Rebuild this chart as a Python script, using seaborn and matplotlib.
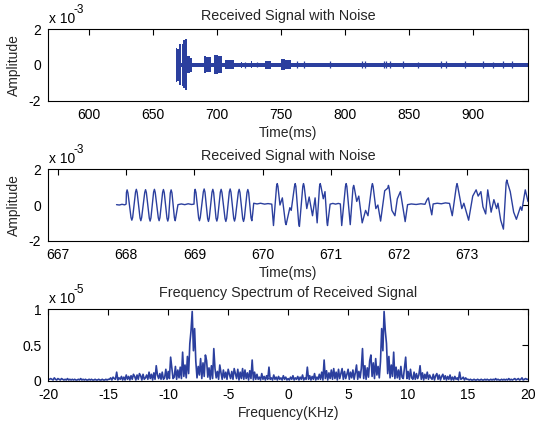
import numpy as np
import pandas as pd
import matplotlib
matplotlib.use("Agg")
import matplotlib.pyplot as plt
import seaborn as sns

sns.set_theme(style="white")
plt.rcParams["font.family"] = ["Liberation Sans", "DejaVu Sans"]

LINE = "#2b3f9e"

# ---- Overview trace (time in ms, amplitude in units of 1e-3) ----
# band envelope, each value held until the next breakpoint
env_t = [667.8, 669.0, 670.0, 672.1, 672.75, 673.3, 674.6, 676.3, 676.8,
         678.5, 680.6, 689.5, 691.5, 695.0, 697.6, 700.5, 703.6, 706.0,
         713.0, 718.5, 719.5, 726.5, 727.5, 737.5, 742.0, 749.5, 753.0,
         757.5, 942.7]
env_hi = [0.93, 0.90, 1.20, 0.10, 1.20, 1.38, 1.43, 0.15, 0.48,
          0.40, 0.12, 0.50, 0.44, 0.12, 0.55, 0.50, 0.12, 0.28,
          0.10, 0.18, 0.10, 0.20, 0.10, 0.22, 0.10, 0.35, 0.28,
          0.10, 0.10]
env_lo = [-0.93, -0.90, -1.10, -0.10, -1.20, -1.30, -1.40, -0.15, -0.45,
          -0.38, -0.10, -0.46, -0.42, -0.10, -0.50, -0.46, -0.10, -0.25,
          -0.09, -0.15, -0.09, -0.15, -0.09, -0.20, -0.09, -0.30, -0.24,
          -0.09, -0.09]
# isolated noise spikes along the tail
spike_t = [722.0, 731.0, 762.0, 768.0, 788.0, 812.8, 815.4, 830.0, 832.0,
           835.0, 845.5, 857.0, 875.0, 879.0, 893.6, 907.8, 915.6, 923.4, 929.9]
spike_hi = [0.18, 0.16, 0.20, 0.22, 0.20, 0.22, 0.20, 0.22, 0.20,
            0.22, 0.20, 0.18, 0.22, 0.20, 0.20, 0.22, 0.18, 0.20, 0.20]
spike_lo = [-0.15, -0.14, -0.17, -0.18, -0.16, -0.18, -0.17, -0.18, -0.16,
            -0.18, -0.16, -0.15, -0.18, -0.17, -0.16, -0.18, -0.15, -0.16, -0.16]

# ---- Zoomed trace: waveform points (ms, units of 1e-3) ----
zoom_t = [667.86, 667.90, 667.94, 667.98, 668.00,
          # first tone burst
          668.005, 668.015, 668.027, 668.072, 668.084, 668.096,
          668.138, 668.15, 668.162, 668.204, 668.216, 668.228,
          668.273, 668.285, 668.297, 668.340, 668.352, 668.364,
          668.403, 668.415, 668.427, 668.472, 668.484, 668.496,
          668.535, 668.547, 668.559, 668.599, 668.611, 668.623,
          668.648, 668.66, 668.672, 668.708, 668.72, 668.732,
          668.76, 668.81, 668.86, 668.91, 668.96, 668.995,
          # second tone burst
          669.003, 669.012, 669.024, 669.063, 669.075, 669.087,
          669.132, 669.144, 669.156, 669.195, 669.207, 669.219,
          669.259, 669.271, 669.283, 669.318, 669.33, 669.342,
          669.381, 669.393, 669.405, 669.450, 669.462, 669.474,
          669.513, 669.525, 669.537, 669.577, 669.589, 669.601,
          669.645, 669.657, 669.669, 669.709, 669.721, 669.733,
          669.772, 669.784, 669.796, 669.831, 669.843, 669.855,
          669.87, 669.92, 669.97, 670.03, 670.08, 670.135,
          # mixed-tone bursts
          670.16, 670.205, 670.215, 670.225, 670.255, 670.29, 670.335, 670.345,
          670.40, 670.42, 670.468, 670.478, 670.488,
          670.53, 670.54, 670.59, 670.60, 670.61, 670.648, 670.683, 670.732,
          670.77, 670.80, 670.835, 670.845, 670.855,
          670.89, 670.915, 670.945, 670.952,
          670.99, 671.03, 671.07, 671.11, 671.14,
          671.16, 671.215, 671.225, 671.235, 671.285, 671.325, 671.335, 671.345,
          671.38, 671.41, 671.46, 671.51,
          671.545, 671.60, 671.61, 671.62, 671.66, 671.69, 671.73, 671.79,
          671.835, 671.845, 671.855, 671.895,
          671.94, 671.975, 672.02, 672.09,
          672.125, 672.18, 672.25, 672.32, 672.38,
          672.41, 672.43, 672.45, 672.48, 672.50,
          672.56, 672.62, 672.68, 672.74,
          672.78, 672.84, 672.85, 672.86, 672.92, 672.95, 673.02, 673.08,
          673.13, 673.16, 673.20, 673.23, 673.27, 673.30, 673.35, 673.39,
          673.43, 673.45, 673.49, 673.53, 673.57, 673.58, 673.59, 673.63,
          673.68, 673.72, 673.78, 673.80, 673.85, 673.89]
zoom_amp = [0.02, 0.00, 0.04, 0.01, 0.05,
            0.70, 0.85, 0.68, -0.70, -0.85, -0.70,
            0.72, 0.88, 0.70, -0.72, -0.88, -0.70,
            0.70, 0.86, 0.70, -0.74, -0.90, -0.72,
            0.72, 0.88, 0.70, -0.72, -0.88, -0.70,
            0.70, 0.87, 0.70, -0.74, -0.90, -0.72,
            0.68, 0.85, 0.68, -0.72, -0.88, -0.60,
            0.02, 0.06, 0.02, 0.07, 0.03, 0.05,
            0.72, 0.88, 0.70, -0.72, -0.88, -0.70,
            0.74, 0.90, 0.72, -0.76, -0.92, -0.74,
            0.72, 0.88, 0.70, -0.74, -0.90, -0.72,
            0.72, 0.88, 0.70, -0.76, -0.92, -0.74,
            0.74, 0.90, 0.72, -0.74, -0.90, -0.72,
            0.72, 0.88, 0.70, -0.76, -0.92, -0.74,
            0.70, 0.87, 0.70, -0.72, -0.88, -0.50,
            0.10, 0.06, 0.10, 0.05, 0.08, 0.05,
            -1.15, 1.05, 1.20, 1.05, 0.00, 0.40, -1.00, -1.10,
            -0.15, -0.30, 1.05, 1.20, 1.05,
            -1.05, -1.20, 1.05, 1.20, 1.05, -0.20, 0.45, -0.60,
            0.40, -1.00, 1.05, 1.20, 1.05,
            0.35, 0.75, -1.00, -1.15,
            0.05, 0.09, 0.05, 0.09, 0.06,
            -1.15, 1.05, 1.20, 1.05, -1.10, 0.95, 1.10, 0.95,
            0.20, 0.50, -1.00, -0.30,
            -0.60, 1.05, 1.20, 1.05, -0.20, 0.00, -0.90, 0.80,
            0.95, 1.10, 0.95, -0.30,
            -0.60, 0.35, 0.75, -0.93,
            0.02, 0.06, 0.03, 0.07, 0.04,
            0.30, 0.40, 0.00, -0.55, 0.06,
            0.10, 0.07, 0.12, 0.09,
            -0.60, 1.05, 1.20, 1.05, -0.20, 0.10, -0.85, 0.50,
            0.85, 0.50, 0.75, -0.10, -0.50, 0.85, -0.40, 0.30,
            -0.20, 0.10, -0.85, -1.35, 1.25, 1.40, 1.25, 0.75,
            -0.40, -0.80, -0.10, -0.30, 0.85, 0.20]

# ---- Magnitude spectrum, 0-20 kHz in 0.1 kHz bins (units of 1e-5) ----
spec_step_khz = 0.1
spec_mag = [
    0.03, 0.01, 0.05, 0.02, 0.07, 0.01, 0.04, 0.02, 0.06, 0.01,   # 0
    0.05, 0.02, 0.08, 0.01, 0.04, 0.02, 0.19, 0.02, 0.07, 0.01,   # 1
    0.06, 0.02, 0.10, 0.01, 0.05, 0.02, 0.09, 0.02, 0.12, 0.01,   # 2
    0.29, 0.03, 0.14, 0.01, 0.11, 0.03, 0.15, 0.02, 0.17, 0.03,   # 3
    0.12, 0.01, 0.16, 0.03, 0.10, 0.17, 0.02, 0.13, 0.03, 0.09,   # 4
    0.16, 0.02, 0.12, 0.04, 0.15, 0.02, 0.11, 0.22, 0.02, 0.13,   # 5
    0.04, 0.17, 0.45, 0.03, 0.21, 0.02, 0.18, 0.05, 0.28, 0.36,   # 6
    0.06, 0.25, 0.03, 0.31, 0.08, 0.20, 0.04, 0.27, 0.73, 0.42,   # 7
    0.97, 0.70, 0.52, 0.10, 0.34, 0.04, 0.22, 0.06, 0.40, 0.03,   # 8
    0.19, 0.04, 0.15, 0.02, 0.20, 0.05, 0.03, 0.18, 0.33, 0.03,   # 9
    0.13, 0.02, 0.16, 0.04, 0.02, 0.12, 0.02, 0.10, 0.03, 0.08,   # 10
    0.21, 0.02, 0.11, 0.01, 0.09, 0.03, 0.12, 0.02, 0.08, 0.04,   # 11
    0.02, 0.09, 0.01, 0.07, 0.10, 0.02, 0.08, 0.01, 0.06, 0.09,   # 12
    0.02, 0.07, 0.01, 0.06, 0.02, 0.08, 0.01, 0.05, 0.01, 0.06,   # 13
    0.02, 0.04, 0.01, 0.12, 0.02, 0.03, 0.05, 0.01, 0.04, 0.02,   # 14
    0.02, 0.01, 0.02, 0.01, 0.01, 0.02, 0.01, 0.01, 0.02, 0.01,   # 15
    0.01, 0.02, 0.01, 0.01, 0.02, 0.01, 0.02, 0.01, 0.01, 0.02,   # 16
    0.01, 0.02, 0.01, 0.03, 0.01, 0.02, 0.01, 0.01, 0.02, 0.01,   # 17
    0.02, 0.01, 0.02, 0.01, 0.03, 0.01, 0.02, 0.01, 0.02, 0.03,   # 18
    0.01, 0.02, 0.03, 0.01, 0.02, 0.04, 0.01, 0.02, 0.03, 0.02,   # 19
    0.02]

# tick values and labels
t1_ticks = [600, 650, 700, 750, 800, 850, 900]
t2_ticks = [667, 668, 669, 670, 671, 672, 673]
f_ticks = [-20, -15, -10, -5, 0, 5, 10, 15, 20]
amp_ticks = [-2, 0, 2]
spec_ticks = [0, 0.5, 1]
spec_tick_labels = ["0", "0.5", "1"]

# ---------------------------------------------------------------------------
FS = 10
TITLE_FS = 10.4

fig = plt.figure(figsize=(5.35, 4.25), dpi=100)
left, width, height = 0.0903, 0.8966, 0.168
ax1 = fig.add_axes([left, 0.7631, width, height])
ax2 = fig.add_axes([left, 0.4336, width, height])
ax3 = fig.add_axes([left, 0.1042, width, height])


def style_axes(ax):
    ax.set_facecolor("white")
    for s in ax.spines.values():
        s.set_visible(True)
        s.set_color("black")
        s.set_linewidth(0.8)
    ax.tick_params(direction="in", top=True, right=True, length=4, width=0.8,
                   labelsize=FS, colors="black", pad=5)
    ax.grid(False)


def exponent_label(ax, power):
    ax.annotate("x 10", xy=(0, 1), xycoords="axes fraction",
                xytext=(0.5, 4.5), textcoords="offset points",
                fontsize=FS, ha="left", va="baseline", color="black")
    ax.annotate(power, xy=(0, 1), xycoords="axes fraction",
                xytext=(18.2, 11.5), textcoords="offset points",
                fontsize=8.5, ha="left", va="baseline", color="black")


# Panel 1: overview of the received signal
ax1.fill_between(env_t, env_lo, env_hi, step="post", color=LINE, lw=0)
ax1.vlines(spike_t, spike_lo, spike_hi, color=LINE, lw=0.9)
sns.lineplot(x=[env_t[0], env_t[-1]], y=[0.0, 0.0], ax=ax1, color=LINE,
             lw=0.6, estimator=None, sort=False)
ax1.set_xlim(568.2, 942.7)
ax1.set_ylim(-2, 2)
ax1.set_xticks(t1_ticks)
ax1.set_yticks(amp_ticks)
ax1.set_yticklabels([str(v) for v in amp_ticks])
style_axes(ax1)
ax1.set_title("Received Signal with Noise", fontsize=TITLE_FS, pad=7)
ax1.set_xlabel("Time(ms)", fontsize=FS, labelpad=3)
ax1.set_ylabel("Amplitude", fontsize=FS)
ax1.yaxis.set_label_coords(-0.058, 0.5)
exponent_label(ax1, "-3")

# Panel 2: zoom on the first bursts
zoom_df = pd.DataFrame({"t": zoom_t, "amp": zoom_amp})
sns.lineplot(data=zoom_df, x="t", y="amp", ax=ax2, color=LINE, lw=1.0,
             estimator=None, sort=False)
ax2.set_xlim(666.86, 673.89)
ax2.set_ylim(-2, 2)
ax2.set_xticks(t2_ticks)
ax2.set_yticks(amp_ticks)
ax2.set_yticklabels([str(v) for v in amp_ticks])
style_axes(ax2)
ax2.set_title("Received Signal with Noise", fontsize=TITLE_FS, pad=7)
ax2.set_xlabel("Time(ms)", fontsize=FS, labelpad=3)
ax2.set_ylabel("Amplitude", fontsize=FS)
ax2.yaxis.set_label_coords(-0.058, 0.5)
exponent_label(ax2, "-3")

# Panel 3: two-sided magnitude spectrum (real signal -> mirrored halves)
pos_f = [round(i * spec_step_khz, 1) for i in range(len(spec_mag))]
spec_f = [-f for f in pos_f[:0:-1]] + pos_f
spec_m = spec_mag[:0:-1] + spec_mag
spec_df = pd.DataFrame({"f": spec_f, "mag": spec_m})
sns.lineplot(data=spec_df, x="f", y="mag", ax=ax3, color=LINE, lw=1.2,
             estimator=None, sort=False)
ax3.set_xlim(-20, 20)
ax3.set_ylim(0, 1)
ax3.set_xticks(f_ticks)
ax3.set_xticklabels([str(v) for v in f_ticks])
ax3.set_yticks(spec_ticks)
ax3.set_yticklabels(spec_tick_labels)
style_axes(ax3)
ax3.set_title("Frequency Spectrum of Received Signal", fontsize=TITLE_FS, pad=9)
ax3.set_xlabel("Frequency(KHz)", fontsize=FS, labelpad=3)
ax3.set_ylabel("")
exponent_label(ax3, "-5")

fig.savefig("out.png", dpi=100, facecolor="white")
